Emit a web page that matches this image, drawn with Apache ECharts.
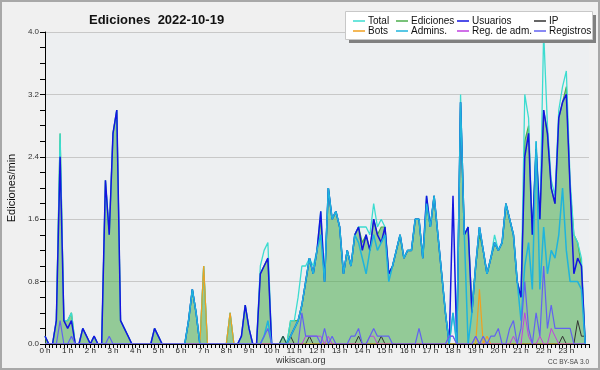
<!DOCTYPE html>
<html>
<head>
<meta charset="utf-8">
<script src="https://cdn.jsdelivr.net/npm/echarts@6/dist/echarts.min.js"></script>
<style>
body{margin:0;background:#f0f0f0;}
#main{width:600px;height:370px;}
</style>
</head>
<body>
<div id="main"></div>
<script>
/*------------数据 (10 min bins, 144 per day)------------*/
var legendRow1 = ['Total', 'Ediciones', 'Usuarios', 'IP'];
var legendRow2 = ['Bots', 'Admins.', 'Reg. de adm.', 'Registros'];

var total = [
	0.1,0,0,0.3,2.7,0.3,0.3,0.4,0,0,0.2,0.1,
	0,0.1,0,0,2.1,1.4,2.7,3.0,0.3,0.2,0.1,0,
	0,0,0,0,0,0.2,0.1,0,0,0,0,0,
	0,0,0.3,0.7,0.4,0,1.0,0,0,0,0,0,
	0,0.4,0,0,0.1,0.5,0.2,0,0,1.0,1.2,1.3,
	0,0,0,0.1,0,0.3,0.3,0.6,1.0,1.0,1.1,1.0,
	1.2,1.7,0.8,2.0,1.6,1.7,1.5,0.9,1.2,1.0,1.4,1.5,
	1.5,1.5,1.4,1.8,1.5,1.6,1.5,0.9,1.0,1.2,1.4,1.1,
	1.2,1.2,1.6,1.6,1.1,1.9,1.5,1.9,1.4,0.9,0.4,0,
	0.4,0,3.2,1.4,1.5,0.4,1.0,1.5,1.2,0.9,1.1,1.4,
	1.2,1.3,1.8,1.6,1.4,0.8,0.6,3.2,2.9,1.4,2.6,1.6,
	4.0,2.8,2.1,1.9,3.0,3.3,3.5,2.1,1.4,1.3,1.1,0
];
var ediciones = [
	0.1,0,0,0.3,2.7,0.3,0.3,0.4,0,0,0.2,0.1,
	0,0.1,0,0,2.1,1.4,2.7,3.0,0.3,0.2,0.1,0,
	0,0,0,0,0,0.2,0.1,0,0,0,0,0,
	0,0,0.3,0.7,0.4,0,1.0,0,0,0,0,0,
	0,0.4,0,0,0.1,0.5,0.2,0,0,0.9,1.0,1.1,
	0,0,0,0.1,0,0.3,0.3,0.3,0.5,0.8,1.1,0.9,
	1.2,1.6,0.8,2.0,1.6,1.7,1.5,0.9,1.2,1.0,1.4,1.5,
	1.3,1.4,1.2,1.6,1.4,1.5,1.5,0.9,1.0,1.2,1.4,1.1,
	1.2,1.2,1.6,1.6,1.1,1.8,1.5,1.9,1.4,0.9,0.4,0,
	0,0,3.1,1.4,1.5,0.5,1.0,1.4,1.2,0.9,1.1,1.3,
	1.2,1.3,1.8,1.6,1.4,0.8,0.6,2.6,2.8,1.4,2.5,1.6,
	3.0,2.7,2.0,1.8,2.9,3.1,3.3,2.0,1.4,1.3,1.0,0
];
var usuarios = [
	0.1,0,0,0.3,2.4,0.3,0.2,0.3,0,0,0.2,0.1,
	0,0.1,0,0,2.1,1.4,2.7,3.0,0.3,0.2,0.1,0,
	0,0,0,0,0,0.2,0.1,0,0,0,0,0,
	0,0,0.3,0.7,0.4,0,0,0,0,0,0,0,
	0,0,0,0,0.1,0.5,0.2,0,0,0.9,1.0,1.1,
	0,0,0,0,0,0.1,0.2,0.3,0.5,0.8,1.1,0.9,
	1.2,1.7,0.8,2.0,1.6,1.7,1.5,0.9,1.2,1.0,1.4,1.5,
	1.2,1.4,1.2,1.6,1.4,1.3,1.5,0.9,1.0,1.2,1.4,1.1,
	1.2,1.2,1.6,1.6,1.1,1.9,1.5,1.9,1.4,0.9,0.4,0,
	1.9,0,3.1,1.4,1.5,0.4,1.0,1.5,1.2,0.9,1.1,1.3,
	1.2,1.3,1.8,1.6,1.4,0.8,0.6,2.4,2.7,1.4,2.5,1.6,
	3.0,2.7,2.0,1.8,2.9,3.1,3.2,2.0,0.9,1.1,1.0,0
];
var ip = [
	0,0,0,0,0,0,0,0,0,0,0,0,
	0,0,0,0,0,0,0,0,0,0,0,0,
	0,0,0,0,0,0,0,0,0,0,0,0,
	0,0,0,0,0,0,0,0,0,0,0,0,
	0,0,0,0,0,0,0,0,0,0,0,0,
	0,0,0,0.1,0,0.1,0,0,0,0,0.1,0,
	0,0,0,0,0,0,0,0,0,0,0,0.1,
	0,0,0,0,0,0.1,0,0,0,0,0,0,
	0,0,0,0,0,0,0,0,0,0,0,0,
	0,0,0,0,0,0,0,0,0,0,0,0,
	0,0,0,0,0,0,0,0,0,0,0,0,
	0,0,0,0,0,0.1,0,0,0,0.3,0.1,0.1
];
var bots = [
	0,0,0,0,0,0,0,0,0,0,0,0,
	0,0,0,0,0,0,0,0,0,0,0,0,
	0,0,0,0,0,0,0,0,0,0,0,0,
	0,0,0,0,0,0,1.0,0,0,0,0,0,
	0,0.4,0,0,0,0,0,0,0,0,0,0,
	0,0,0,0,0,0,0,0,0,0,0,0,
	0,0,0,0,0,0,0,0,0,0,0,0,
	0,0,0,0,0,0,0,0,0,0,0,0,
	0,0,0,0,0,0,0,0,0,0,0,0,
	0,0,0,0,0,0,0,0.7,0,0.1,0,0,
	0,0,0,0,0,0,0,0,0,0,0,0,
	0,0,0,0,0,0,0,0,0,0,0,0
];
var admins = [
	0,0,0,0,0,0,0,0,0,0,0,0,
	0,0,0,0,0,0,0,0,0,0,0,0,
	0,0,0,0,0,0,0,0,0,0,0,0,
	0,0,0.3,0.7,0.4,0,0,0,0,0,0,0,
	0,0,0,0,0,0,0,0,0,0,0.1,0.3,
	0,0,0,0,0,0.1,0.2,0.3,0.5,0.8,1.1,0.9,
	1.2,1.4,0.8,2.0,1.6,1.7,1.5,0.9,1.2,1.0,1.4,1.3,
	1.1,0.9,1.2,1.4,1.2,1.3,1.4,0.8,1.0,1.2,1.4,1.1,
	1.2,1.2,1.6,1.6,1.1,1.8,1.5,1.9,1.4,0.9,0.4,0,
	0.4,0,3.1,1.4,0,0.4,1.0,1.5,1.2,0.9,1.1,1.3,
	1.2,1.3,1.8,1.6,1.4,0.8,0.3,1.0,1.3,0.7,2.6,0.7,
	1.5,0.9,1.2,1.1,1.4,2.0,1.2,0.8,0.8,0.8,0.7,0
];
var regAdm = [
	0,0,0,0,0,0,0,0,0,0,0,0,
	0,0,0,0,0,0,0,0,0,0,0,0,
	0,0,0,0,0,0,0,0,0,0,0,0,
	0,0,0,0,0,0,0,0,0,0,0,0,
	0,0,0,0,0,0,0,0,0,0,0,0,
	0,0,0,0,0,0,0,0,0,0.1,0.1,0.1,
	0.1,0.1,0,0.1,0,0,0,0,0,0,0,0,
	0,0,0.1,0.1,0,0,0,0,0,0,0,0,
	0,0,0,0,0,0,0,0,0,0,0,0.1,
	0.1,0,0,0,0,0,0.1,0,0,0,0,0,
	0,0,0,0,0.1,0,0,0.4,0.1,0,0,0.1,
	0,0,0.2,0.1,0,0,0,0,0,0,0,0
];
var registros = [
	0,0,0,0,0.3,0,0,0.1,0,0,0,0,
	0,0,0,0,0,0.1,0,0,0,0,0,0,
	0,0,0,0,0,0,0,0,0,0,0,0,
	0,0,0,0,0,0,0,0,0,0,0,0,
	0,0,0,0,0,0,0,0,0,0,0.1,0.2,
	0,0,0,0,0,0,0,0,0.4,0.1,0.1,0.1,
	0.1,0,0.2,0,0.1,0,0,0,0,0.1,0.1,0.2,
	0,0,0.1,0.2,0.1,0.1,0.1,0.1,0,0,0,0,
	0,0,0,0.2,0,0,0,0,0,0,0,0.1,
	0.1,0,0,0,0,0,0.1,0,0.1,0,0.1,0.1,
	0.2,0,0,0.2,0.3,0,0.2,0.8,0.2,0,0.4,0.1,
	1.0,0.2,0.5,0.2,0.2,0.2,0.2,0.2,0,0,0,0
];

// index -> [bin, value]
function toPairs(arr) {
	return arr.map(function(v, i) {
		return [i, v];
	});
}

function lineSeries(name, data, color, width) {
	return {
		name: name,
		type: 'line',
		data: toPairs(data),
		showSymbol: false,
		symbol: 'none',
		color: color,
		lineStyle: { color: color, width: width }
	};
}

var FONT = 'Liberation Sans';

function legendCol(left, names) {
	return {
		orient: 'vertical',
		left: left,
		top: 11,
		z: 10,
		itemGap: 0,
		itemWidth: 12,
		itemHeight: 1.5,
		icon: 'rect',
		selectedMode: false,
		data: names,
		textStyle: { fontFamily: FONT, fontSize: 10, color: '#111', lineHeight: 10, padding: [0, 0, 0, -2] }
	};
}

/*------------echarts设置------------*/
var chart = echarts.init(document.getElementById('main'));
chart.setOption({
	animation: false,
	backgroundColor: '#f0f0f0',
	title: {
		text: 'Ediciones  2022-10-19',
		left: 84,
		top: 9,
		textStyle: { fontFamily: FONT, fontSize: 13, fontWeight: 'bold', color: '#111' }
	},
	legend: [
		legendCol(348, [legendRow1[0], legendRow2[0]]),
		legendCol(391, [legendRow1[1], legendRow2[1]]),
		legendCol(452, [legendRow1[2], legendRow2[2]]),
		legendCol(529, [legendRow1[3], legendRow2[3]])
	],
	grid: {
		left: 45, right: 11, top: 32, bottom: 26,
		outerBoundsMode: 'none',
		containLabel: false,
		show: true,
		backgroundColor: '#edeff1',
		borderWidth: 0
	},
	xAxis: {
		type: 'value',
		min: 0,
		max: 144,
		interval: 6,
		z: 10,
		axisLine: { lineStyle: { color: '#000', width: 1 } },
		axisTick: { length: 4, lineStyle: { color: '#000' } },
		minorTick: { show: true, splitNumber: 6, length: 4, lineStyle: { color: '#000' } },
		splitLine: { show: false },
		axisLabel: {
			fontFamily: FONT, fontSize: 8, color: '#222', margin: 3,
			formatter: function(v) { return v >= 144 ? '' : (v / 6) + ' h'; }
		}
	},
	yAxis: {
		type: 'value',
		min: 0,
		max: 4,
		interval: 0.8,
		name: 'Ediciones/min',
		nameLocation: 'middle',
		nameGap: 28,
		nameTextStyle: { fontFamily: FONT, fontSize: 11, color: '#111' },
		axisLine: { show: true, lineStyle: { color: '#000', width: 1 } },
		axisTick: { show: true, length: 5, lineStyle: { color: '#000' } },
		minorTick: { show: true, splitNumber: 4, length: 5, lineStyle: { color: '#000' } },
		splitLine: { show: true, lineStyle: { color: '#c8c8c8', width: 1 } },
		axisLabel: {
			fontFamily: FONT, fontSize: 8, color: '#333', margin: 6,
			formatter: function(v) { return v.toFixed(1); }
		}
	},
	graphic: [
		{ type: 'rect', shape: { x: 1, y: 1, width: 598, height: 368 }, style: { fill: 'none', stroke: '#a8a8a8', lineWidth: 2 }, silent: true, z: 0 },
		{ type: 'rect', shape: { x: 349, y: 15, width: 247, height: 28 }, style: { fill: '#808080' }, silent: true, z: 5 },
		{ type: 'rect', shape: { x: 345.5, y: 11.5, width: 247, height: 28 }, style: { fill: '#fff', stroke: '#c8c8c8', lineWidth: 1 }, silent: true, z: 6 },
		{ type: 'text', left: 276, top: 356, style: { text: 'wikiscan.org', fontFamily: FONT, fontSize: 9, fill: '#333' }, silent: true },
		{ type: 'text', right: 11, top: 359, style: { text: 'CC BY-SA 3.0', fontFamily: FONT, fontSize: 6.5, fill: '#444' }, silent: true }
	],
	series: [
		{
			name: 'Ediciones',
			type: 'line',
			data: toPairs(ediciones),
			symbol: 'none',
			color: '#4cae4c',
			lineStyle: { color: '#4cae4c', width: 1.2 },
			areaStyle: { color: '#48ac4c', opacity: 0.55 }
		},
		lineSeries('Total', total, '#3cdcd0', 1.3),
		lineSeries('Usuarios', usuarios, '#1414e0', 1.5),
		lineSeries('IP', ip, '#333333', 1),
		lineSeries('Bots', bots, '#f0a020', 1.2),
		lineSeries('Admins.', admins, '#1fb4dc', 1.5),
		lineSeries('Reg. de adm.', regAdm, '#c040e0', 1),
		lineSeries('Registros', registros, '#6262f0', 1.2)
	]
});
</script>
</body>
</html>
